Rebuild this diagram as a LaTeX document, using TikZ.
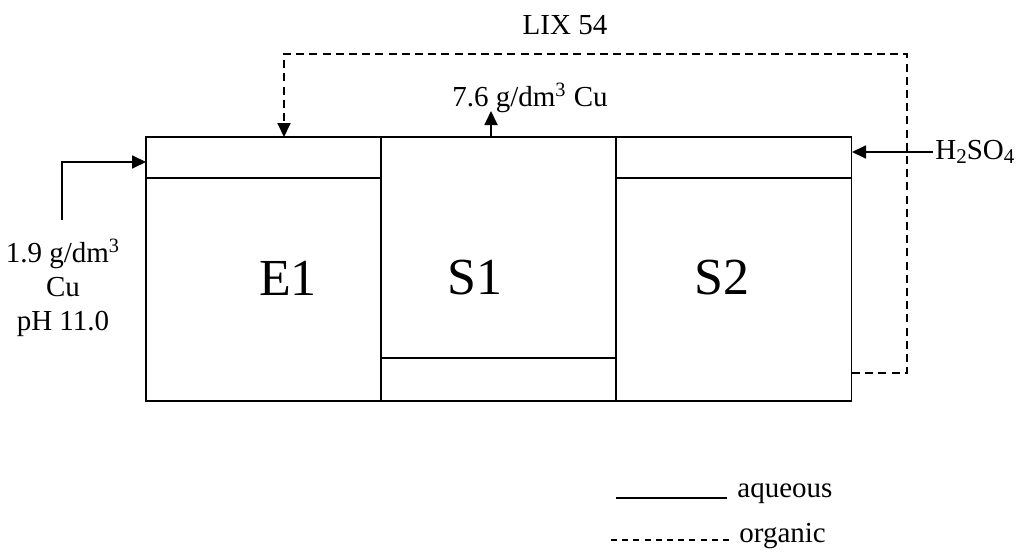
\documentclass[tikz,border=0pt]{standalone}
\usepackage{fontspec}
\setmainfont{Liberation Serif}
\usetikzlibrary{
  calc,positioning,
  arrows,arrows.meta
}
\newcommand\lowidx[1]{\raisebox{-0.35ex}{\fontsize{10.5}{11}\selectfont #1}}

\begin{document}
\begin{tikzpicture}[x=0.5pt,y=-0.5pt,
  tank/.style={draw,line width=0.9pt,minimum width=117.5pt,minimum height=132pt,inner sep=0pt},
  phase/.style={line width=0.9pt},
  flow/.style={line width=0.9pt,-{Triangle[length=7pt,width=6.5pt]}},
  organic/.style={dash pattern=on 4pt off 2.6pt},
  txt/.style={font=\fontsize{14.5}{17}\selectfont,inner sep=1pt},
  tag/.style={font=\fontsize{26}{30}\selectfont,inner sep=0pt}
]
\useasboundingbox (0,0) rectangle (1016,551);

\node[tank] (E1) at (263.5,269) {};
\node[tank] (S1) at (498.5,269) {};
\node[tank] (S2) at (734,269) {};

\draw[phase] (146,178) -- (381,178);
\draw[phase] (381,358) -- (616,358);
\draw[phase] (616,178) -- (852,178);

\node[tag] (E1lab) at (288,278) {E1};
\node[tag] (S1lab) at (475,278) {S1};
\node[tag] (S2lab) at (722,278) {S2};

% feed
\node[txt,align=center] (feed) at (63,288) {1.9 g/dm\textsuperscript{3}\\Cu\\pH 11.0};
\coordinate (feedtop) at (62,220);
\coordinate (E1aq) at (146,162);
\draw[flow] (feedtop) |- (E1aq);

% loaded strip liquor
\node[txt] (cuout) at (530,98) {7.6 g/dm\textsuperscript{3} Cu};
\coordinate (S1out) at (491,137);
\draw[flow] (S1out) -- (491,111);

% acid
\node[txt,anchor=west] (acid) at (933,152) {H\lowidx{2}SO\lowidx{4}};
\coordinate (S2in) at (852,152);
\draw[flow] (acid.west) -- (S2in);

% organic return
\node[txt] (lix) at (565,25) {LIX 54};
\coordinate (S2org) at (852,373);
\coordinate (ret) at (907,54);
\coordinate (E1org) at (284,137);
\draw[flow,organic] (S2org) -| (ret) -| (E1org);

% legend
\coordinate (aqA) at (616,498);
\node[txt,anchor=west] (aq) at (735,494) {aqueous};
\draw[phase] (aqA) -- ([xshift=-4pt]aq.west |- aqA);
\coordinate (orgA) at (611,540);
\node[txt,anchor=west] (org) at (737,536) {organic};
\draw[phase,dash pattern=on 3pt off 2.6pt] (orgA) -- ([xshift=-4pt]org.west |- orgA);
\end{tikzpicture}
\end{document}
